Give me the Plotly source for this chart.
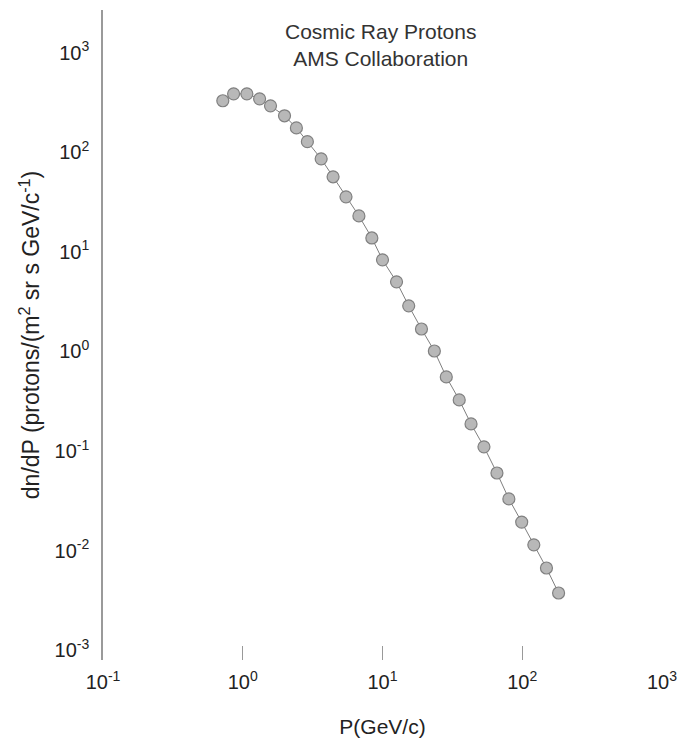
import plotly.graph_objects as go

# Momentum P (GeV/c)
momentum = [0.72, 0.86, 1.07, 1.32, 1.58, 1.99, 2.42, 2.90, 3.64, 4.43,
            5.48, 6.78, 8.39, 10.0, 12.6, 15.4, 19.0, 23.5, 28.6, 35.4,
            43.0, 53.2, 65.9, 80.2, 99.1, 121, 149, 182]
# Flux dn/dP
flux = [330, 387, 387, 345, 293, 233, 176, 128, 86, 56.8,
        35.7, 23.0, 13.8, 8.32, 5.00, 2.87, 1.68, 1.01, 0.555, 0.326,
        0.187, 0.110, 0.0601, 0.0330, 0.0193, 0.0114, 0.00667, 0.00374]

x_tickvals = [0.1, 1, 10, 100, 1000]
x_ticktext = ["10<sup>-1</sup>", "10<sup>0</sup>", "10<sup>1</sup>", "10<sup>2</sup>", "10<sup>3</sup>"]
y_tickvals = [1e-3, 1e-2, 1e-1, 1, 10, 100, 1000]
y_ticktext = ["10<sup>-3</sup>", "10<sup>-2</sup>", "10<sup>-1</sup>", "10<sup>0</sup>",
              "10<sup>1</sup>", "10<sup>2</sup>", "10<sup>3</sup>"]

font_family = "Liberation Sans, Arial, sans-serif"

fig = go.Figure()
fig.add_trace(go.Scatter(
    x=momentum, y=flux, mode="lines+markers",
    line=dict(color="#7f7f7f", width=1),
    marker=dict(symbol="circle", size=12, color="#b8b8b8",
                line=dict(color="#808080", width=1.2)),
    showlegend=False,
))

fig.add_annotation(
    x=0.496, y=0.946, xref="paper", yref="paper",
    text="Cosmic Ray Protons<br>AMS Collaboration",
    showarrow=False, xanchor="center", yanchor="middle",
    font=dict(family=font_family, size=21, color="#333333"),
)

fig.update_layout(
    width=687, height=745,
    margin=dict(l=103, r=22, t=10, b=85),
    paper_bgcolor="white", plot_bgcolor="white",
    font=dict(family=font_family, color="#222222"),
    xaxis=dict(
        type="log", range=[-1, 3],
        tickvals=x_tickvals, ticktext=x_ticktext,
        ticks="inside", ticklen=14, tickcolor="#999999", tickwidth=1,
        showgrid=False, zeroline=False, showline=False,
        tickfont=dict(size=20, color="#222222"),
        ticklabelstandoff=8,
        title=dict(text="P(GeV/c)", font=dict(size=21, color="#222222"), standoff=27),
    ),
    yaxis=dict(
        type="log", range=[-3.1, 3.43],
        tickvals=y_tickvals, ticktext=y_ticktext,
        ticks="", showgrid=False, zeroline=False,
        showline=True, linecolor="#9a9a9a", linewidth=1.5,
        tickfont=dict(size=20, color="#222222"),
        ticklabelstandoff=8,
        title=dict(text="dn/dP (protons/(m<sup>2</sup> sr s GeV/c<sup>-1</sup>)",
                   font=dict(size=23, color="#222222"), standoff=8),
    ),
)

fig.write_html("out.html")
